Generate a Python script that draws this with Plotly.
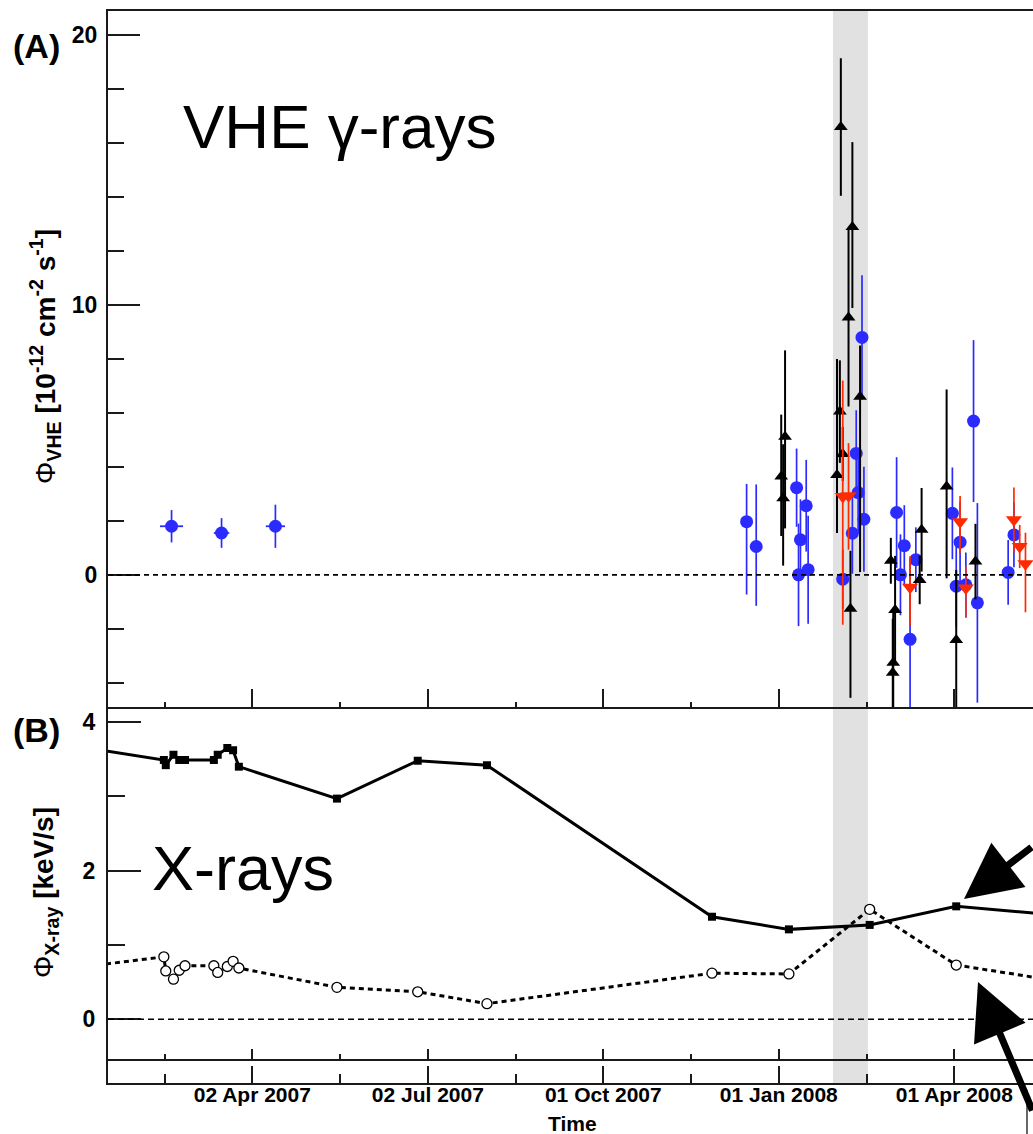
import pandas as pd
import plotly.graph_objects as go

# ---------------- data ----------------
# VHE gamma-ray fluxes [1e-12 cm^-2 s^-1]
blue_time = ["2007-02-19", "2007-03-17", "2007-04-14",
             "2007-12-15", "2007-12-20", "2008-01-10", "2008-01-15", "2008-01-12",
             "2008-01-11", "2008-01-16", "2008-02-03", "2008-02-10", "2008-02-11",
             "2008-02-08", "2008-02-14", "2008-02-13", "2008-03-02", "2008-03-06",
             "2008-03-04", "2008-03-12", "2008-03-09", "2008-03-31", "2008-04-04",
             "2008-04-02", "2008-04-07", "2008-04-11", "2008-04-13", "2008-04-29",
             "2008-05-02"]
blue_flux = [1.8, 1.55, 1.8,
             1.97, 1.05, 3.23, 2.56, 1.30,
             0.0, 0.19, -0.16, 4.5, 3.05,
             1.54, 2.06, 8.8, 2.31, 1.08,
             0.0, 0.56, -2.39, 2.28, 1.21,
             -0.42, -0.37, 5.7, -1.04, 0.09,
             1.48]
blue_err_up = [0.6, 0.55, 0.8,
               1.4, 2.3, 1.45, 1.7, 1.5,
               1.9, 2.0, 1.1, 1.6, 1.5,
               1.5, 1.95, 2.3, 2.05, 1.5,
               1.5, 1.2, 3.0, 1.7, 1.5,
               1.5, 1.2, 3.0, 3.7, 1.2,
               1.2]
blue_err_dn = [0.6, 0.55, 0.8,
               2.7, 2.2, 1.45, 1.7, 1.5,
               1.9, 2.0, 1.1, 1.6, 1.5,
               1.5, 1.95, 2.3, 2.05, 1.5,
               1.5, 1.2, 3.0, 1.7, 1.5,
               1.5, 1.2, 3.0, 3.7, 1.2,
               1.2]
blue_time_err_days = [6, 4, 5] + [0] * 26

red_time = ["2008-02-03", "2008-02-06", "2008-03-09", "2008-04-04",
            "2008-04-07", "2008-05-02", "2008-05-05", "2008-05-08"]
red_flux = [2.9, 2.93, -0.46, 1.97, -0.49, 2.04, 1.05, 0.41]
red_err_up = [4.3, 1.95, 1.15, 0.95, 0.8, 1.2, 0.8, 1.15]
red_err_dn = [4.75, 2.0, 1.4, 1.15, 1.1, 1.2, 0.8, 1.8]

black_time = ["2008-01-04", "2008-01-02", "2008-01-03", "2008-01-31", "2008-02-01 12:00",
              "2008-02-03", "2008-02-02", "2008-02-08", "2008-02-06", "2008-02-12",
              "2008-02-07", "2008-02-28", "2008-03-01 05:00", "2008-02-29 06:00", "2008-02-29",
              "2008-03-15", "2008-03-14", "2008-03-28", "2008-04-02", "2008-04-12"]
black_flux = [5.12, 3.64, 2.84, 3.7, 6.05,
              4.48, 16.6, 12.89, 9.54, 6.6,
              -1.26, 0.52, -1.3, -3.26, -3.63,
              1.67, -0.19, 3.27, -2.42, 0.49]
black_err_up = [3.2, 2.3, 2.0, 4.3, 1.9,
                1.0, 2.55, 3.15, 3.3, 1.9,
                2.15, 0.85, 2.0, 2.0, 2.0,
                1.55, 0.9, 3.6, 2.6, 1.4]
black_err_dn = [3.4, 2.2, 2.5, 2.15, 1.9,
                1.0, 2.55, 3.0, 3.3, 6.5,
                3.3, 0.85, 2.0, 2.0, 2.0,
                1.55, 0.9, 3.4, 2.6, 1.4]

# X-ray fluxes [keV/s]
xray_time = ["2007-01-02", "2007-02-15", "2007-02-16", "2007-02-20", "2007-02-23",
             "2007-02-26", "2007-03-13", "2007-03-15", "2007-03-20", "2007-03-23",
             "2007-03-26", "2007-05-16", "2007-06-27", "2007-08-02", "2007-11-27",
             "2008-01-06", "2008-02-17", "2008-04-02", "2008-05-26"]
xray_hard = [3.67, 3.49, 3.42, 3.56, 3.49,
             3.49, 3.49, 3.56, 3.65, 3.62,
             3.40, 2.97, 3.48, 3.42, 1.38,
             1.21, 1.27, 1.52, 1.40]
xray_soft = [0.70, 0.84, 0.65, 0.54, 0.66,
             0.72, 0.72, 0.63, 0.71, 0.78,
             0.69, 0.43, 0.37, 0.21, 0.62,
             0.61, 1.48, 0.73, 0.51]

# time axis
tick_time = ["2007-04-02", "2007-07-02 06:00", "2007-10-01 12:00", "2007-12-31 18:00", "2008-04-01"]
tick_labels = ["02 Apr 2007", "02 Jul 2007", "01 Oct 2007", "01 Jan 2008", "01 Apr 2008"]
minor_time = ["2007-02-15 09:00", "2007-05-17 15:00", "2007-08-16 21:00",
              "2007-11-16 03:00", "2008-02-15 09:00", "2008-05-16 15:00"]
band_time = ["2008-01-28 22:00", "2008-02-16 02:00"]
x_range = ["2007-01-16 23:00", "2008-05-11 22:00"]

# ---------------- style ----------------
W, H = 1033, 1134
BLUE = "#2b2bff"
RED = "#ff2a00"
BLK = "#000000"
AX = "#1a1a1a"
FONT = "Liberation Sans, Arial, Helvetica, sans-serif"


def px(x):
    return x / W


def py(y):
    return 1 - y / H


fig = go.Figure()

# horizontal (time) error bars for the blue points, built from the data
hx, hy = [], []
for t, v, e in zip(blue_time, blue_flux, blue_time_err_days):
    if e > 0:
        c = pd.Timestamp(t)
        hx += [c - pd.Timedelta(days=e), c + pd.Timedelta(days=e), None]
        hy += [v, v, None]
fig.add_trace(go.Scatter(x=hx, y=hy, mode="lines", xaxis="x", yaxis="y",
                         line=dict(color=BLUE, width=1.8), showlegend=False, hoverinfo="skip"))

fig.add_trace(go.Scatter(
    x=blue_time, y=blue_flux, mode="markers", xaxis="x", yaxis="y",
    marker=dict(symbol="circle", size=13, color=BLUE),
    error_y=dict(type="data", symmetric=False, array=blue_err_up, arrayminus=blue_err_dn,
                 color=BLUE, thickness=1.7, width=0),
    showlegend=False))

fig.add_trace(go.Scatter(
    x=black_time, y=black_flux, mode="markers", xaxis="x", yaxis="y",
    marker=dict(symbol="triangle-up", size=12, color=BLK),
    error_y=dict(type="data", symmetric=False, array=black_err_up, arrayminus=black_err_dn,
                 color=BLK, thickness=2, width=0),
    showlegend=False))

fig.add_trace(go.Scatter(
    x=red_time, y=red_flux, mode="markers", xaxis="x", yaxis="y",
    marker=dict(symbol="triangle-down", size=14, color=RED),
    error_y=dict(type="data", symmetric=False, array=red_err_up, arrayminus=red_err_dn,
                 color=RED, thickness=1.7, width=0),
    showlegend=False))

fig.add_trace(go.Scatter(
    x=xray_time, y=xray_hard, mode="lines+markers", xaxis="x2", yaxis="y2",
    line=dict(color=BLK, width=3),
    marker=dict(symbol="square", size=8, color=BLK),
    showlegend=False))

fig.add_trace(go.Scatter(
    x=xray_time, y=xray_soft, mode="lines+markers", xaxis="x2", yaxis="y2",
    line=dict(color=BLK, width=3, dash="5px,4px"),
    marker=dict(symbol="circle", size=10, color="white", line=dict(color=BLK, width=1.3)),
    showlegend=False))

fig.add_trace(go.Scatter(x=[], y=[], xaxis="x3", yaxis="y3", showlegend=False))

xdom = [px(108), 1]
yA = [py(707), py(11)]
yB = [py(1060.5), py(707)]
yS = [py(1083), py(1060.5)]


def xax(**kw):
    d = dict(type="date", range=x_range, domain=xdom, showgrid=False, zeroline=False,
             ticks="inside", tickmode="array", tickvals=tick_time, ticktext=tick_labels,
             tickcolor=AX, tickwidth=1.6, linecolor=AX, linewidth=2)
    d.update(kw)
    return d


TICKFONT = dict(family=FONT, size=23, color=BLK, weight="bold")

fig.update_layout(
    width=W, height=H, margin=dict(l=0, r=0, t=0, b=0),
    paper_bgcolor="white", plot_bgcolor="white",
    xaxis=xax(anchor="y", showline=True, mirror=True, ticklen=18, showticklabels=False,
              minor=dict(tickvals=minor_time, ticks="inside", ticklen=5, tickcolor=AX, tickwidth=1.6)),
    xaxis2=xax(anchor="y2", matches="x", showline=False, ticklen=12, showticklabels=False,
               minor=dict(tickvals=minor_time, ticks="inside", ticklen=7, tickcolor=AX, tickwidth=1.6)),
    xaxis3=xax(anchor="y3", matches="x", showline=True, mirror=True, ticklen=17, showticklabels=True,
               ticklabelstandoff=-8,
               tickfont=dict(family=FONT, size=21, color=BLK, weight="bold"),
               minor=dict(tickvals=minor_time, ticks="inside", ticklen=9, tickcolor=AX, tickwidth=1.6)),
    yaxis=dict(domain=yA, anchor="x", range=[-4.9, 20.9], showgrid=False, zeroline=False,
               showline=True, linecolor=AX, linewidth=2,
               tickmode="array", tickvals=[0, 10, 20], ticktext=["0", "10", "20"],
               ticks="inside", ticklen=32, tickcolor=AX, tickwidth=1.6, ticklabelstandoff=4,
               tickfont=TICKFONT,
               minor=dict(dtick=2, tick0=0, ticks="inside", ticklen=16, tickcolor=AX, tickwidth=1.6)),
    yaxis2=dict(domain=yB, anchor="x2", range=[-0.555, 4.203], showgrid=False, zeroline=False,
                showline=True, linecolor=AX, linewidth=2,
                tickmode="array", tickvals=[0, 2, 4], ticktext=["0", "2", "4"],
                ticks="inside", ticklen=33, tickcolor=AX, tickwidth=1.6, ticklabelstandoff=6,
                tickfont=TICKFONT,
                minor=dict(dtick=1, tick0=0, ticks="inside", ticklen=17, tickcolor=AX, tickwidth=1.6)),
    yaxis3=dict(domain=yS, anchor="x3", range=[0, 1], showgrid=False, zeroline=False,
                showline=True, linecolor=AX, linewidth=2, showticklabels=False, ticks=""),
)

shapes = []
for xr, yr in (("x", "y"), ("x2", "y2"), ("x3", "y3")):
    shapes.append(dict(type="rect", xref=xr, yref=yr + " domain", x0=band_time[0], x1=band_time[1],
                       y0=0, y1=1, fillcolor="#e1e1e1", line=dict(width=0), layer="below"))
shapes.append(dict(type="line", xref="x domain", yref="y", x0=0, x1=1, y0=0, y1=0,
                   line=dict(color=BLK, width=1.8, dash="5px,4px")))
shapes.append(dict(type="line", xref="x2 domain", yref="y2", x0=0, x1=1, y0=0, y1=0,
                   line=dict(color=BLK, width=1.3, dash="6px,4px")))
shapes.append(dict(type="line", xref="paper", yref="paper", x0=px(1027), x1=px(1027),
                   y0=py(1090), y1=0, line=dict(color=BLK, width=1.2)))
fig.update_layout(shapes=shapes)


def label(text, x, y, size, family=FONT, xanchor="center", angle=0):
    return dict(text=text, x=px(x), y=py(y), xref="paper", yref="paper",
                xanchor=xanchor, yanchor="middle", textangle=angle, showarrow=False,
                font=dict(family=family, size=size, color=BLK))


ann = [
    label("<b>(A)</b>", 36, 46, 34),
    label("<b>(B)</b>", 36, 730, 34),
    label("Φ<b><sub>VHE</sub> [10<sup>-12</sup> cm<sup>-2</sup> s<sup>-1</sup>]</b>", 45, 357, 28, angle=-90),
    label("Φ<b><sub>X-ray</sub> [keV/s]</b>", 45, 893, 28, angle=-90),
    label("<b>Time</b>", 572, 1123, 21),
    label("VHE γ-rays", 181, 126, 62, xanchor="left"),
    label("X-rays", 150, 868, 63, xanchor="left"),
]
# arrows
ann.append(dict(text="", x=px(964), y=py(899), xref="paper", yref="paper",
                showarrow=True, ax=88, ay=-53, arrowhead=2, arrowsize=1.6, arrowwidth=7,
                arrowcolor=BLK, standoff=0))
ann.append(dict(text="", x=px(978), y=py(982), xref="paper", yref="paper",
                showarrow=True, ax=62, ay=130, arrowhead=2, arrowsize=1.6, arrowwidth=7,
                arrowcolor=BLK, standoff=0))
fig.update_layout(annotations=ann)

fig.write_html("out.html", config={"displayModeBar": False},
               post_script="document.body.style.margin='0';document.body.style.overflow='hidden';")
